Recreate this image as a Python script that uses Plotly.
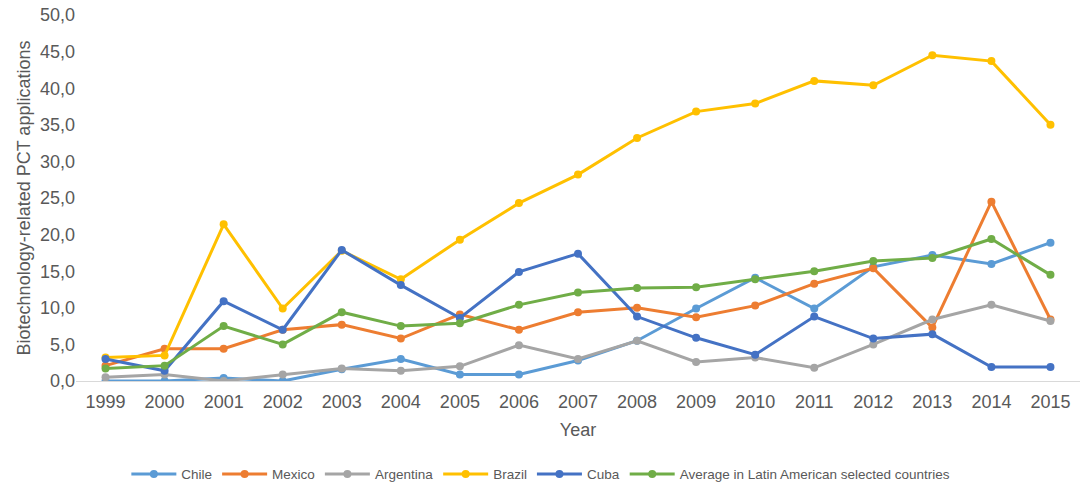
import plotly.graph_objects as go

years = [str(y) for y in range(1999, 2016)]

chile = [0.0, 0.0, 0.4, 0.0, 1.6, 3.0, 0.9, 0.9, 2.8, 5.5, 9.9, 14.1, 9.9, 15.6, 17.2, 16.0, 18.9]
mexico = [2.1, 4.4, 4.4, 7.0, 7.7, 5.8, 9.1, 7.0, 9.4, 10.0, 8.7, 10.3, 13.3, 15.4, 7.3, 24.5, 8.4]
argentina = [0.5, 0.9, 0.0, 0.9, 1.7, 1.4, 2.0, 4.9, 3.0, 5.5, 2.6, 3.2, 1.8, 5.0, 8.4, 10.4, 8.2]
brazil = [3.2, 3.5, 21.4, 9.9, 17.8, 13.9, 19.3, 24.3, 28.2, 33.2, 36.8, 37.9, 41.0, 40.4, 44.5, 43.7, 35.0]
cuba = [3.0, 1.4, 10.9, 7.0, 17.9, 13.1, 8.6, 14.9, 17.4, 8.8, 5.9, 3.6, 8.8, 5.8, 6.4, 1.9, 1.9]
average = [1.7, 2.1, 7.5, 5.0, 9.4, 7.5, 7.9, 10.4, 12.1, 12.7, 12.8, 13.9, 15.0, 16.4, 16.8, 19.4, 14.5]

series = [
    ("Chile", chile, "#5B9BD5"),
    ("Mexico", mexico, "#ED7D31"),
    ("Argentina", argentina, "#A5A5A5"),
    ("Brazil", brazil, "#FFC000"),
    ("Cuba", cuba, "#4472C4"),
    ("Average in Latin American selected countries", average, "#70AD47"),
]

fig = go.Figure()
for name, vals, color in series:
    fig.add_trace(go.Scatter(
        x=years, y=vals, name=name, mode="lines+markers",
        line=dict(color=color, width=3),
        marker=dict(color=color, size=8),
    ))

fig.update_layout(
    width=1083, height=493,
    margin=dict(l=76, r=3, t=15, b=99),
    plot_bgcolor="white", paper_bgcolor="white",
    separators=",.",
    font=dict(family="Liberation Sans, Arial, sans-serif", color="#595959"),
    xaxis=dict(
        type="category", range=[-0.5, 16.5], automargin=False,
        showgrid=False, showline=True, linecolor="#D9D9D9", linewidth=1,
        ticks="", tickfont=dict(size=18, color="#595959"), ticklabelstandoff=4,
        title=dict(text="Year", font=dict(size=18, color="#595959"), standoff=12),
    ),
    yaxis=dict(
        range=[0, 50], dtick=5, tickformat=".1f", automargin=False,
        showgrid=False, zeroline=False, showline=False, ticklabeloverflow="allow",
        tickfont=dict(size=18, color="#595959"),
        title=dict(text="Biotechnology-related PCT applications", font=dict(size=18, color="#595959"), standoff=4),
    ),
    legend=dict(
        orientation="h", x=0.463, xanchor="center", y=-0.255, yanchor="middle",
        font=dict(size=13.5, color="#595959"), itemwidth=45,
    ),
)

fig.write_html(
    "out.html",
    config={"displayModeBar": False},
    post_script="document.body.style.margin='0';document.documentElement.style.overflow='hidden';document.body.style.overflow='hidden';",
)
